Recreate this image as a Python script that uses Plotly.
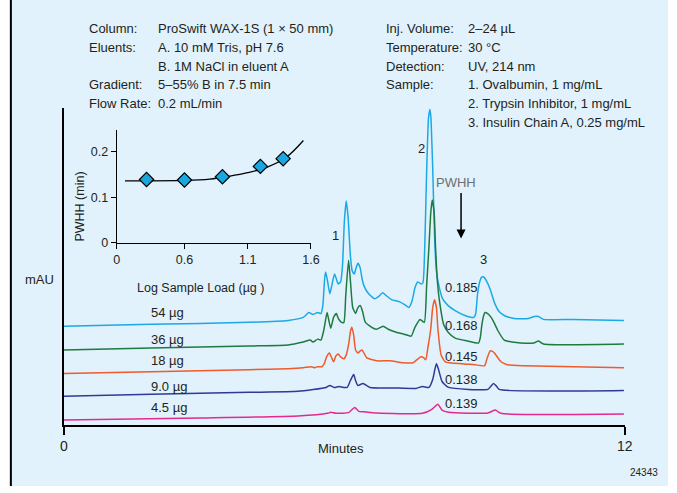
import plotly.graph_objects as go

W, H = 677, 493
FONT = "Liberation Sans, Arial, Helvetica, sans-serif"
TXT = "#231F20"
FS = 13

# ---------------- chromatogram data (time in min, absorbance in mAU) ----------------
t54 = [0.00, 1.87, 3.97, 4.80, 5.12, 5.24, 5.33, 5.43, 5.50, 5.54, 5.58, 5.60, 5.64, 5.69, 5.73, 5.79, 5.83, 5.87,
       5.92, 5.96, 6.00, 6.04, 6.08, 6.13, 6.17, 6.21, 6.25, 6.29, 6.34, 6.38, 6.42, 6.52, 6.65, 6.73, 6.82, 6.90,
       7.01, 7.17, 7.32, 7.38, 7.45, 7.51, 7.57, 7.64, 7.68, 7.72, 7.76, 7.80, 7.83, 7.85, 7.89, 7.93, 7.97, 8.01,
       8.10, 8.22, 8.37, 8.58, 8.77, 8.81, 8.85, 8.90, 8.94, 8.98, 9.04, 9.13, 9.21, 9.31, 9.42, 9.63, 9.94, 10.07,
       10.15, 10.26, 10.89, 11.98]
a54 = [10.0, 10.2, 10.4, 10.6, 10.9, 11.4, 11.2, 11.4, 11.3, 12.1, 14.9, 15.5, 14.6, 13.3, 14.1, 15.3, 14.8, 14.3,
       14.5, 16.1, 20.6, 22.7, 21.1, 17.1, 15.6, 15.3, 15.9, 16.4, 15.9, 14.8, 14.1, 13.3, 12.8, 13.0, 13.4, 13.1,
       12.7, 12.5, 12.1, 11.9, 12.6, 13.9, 14.5, 14.3, 14.4, 18.1, 25.6, 31.1, 32.0, 31.3, 26.1, 19.1, 15.6, 14.4,
       12.8, 12.1, 11.6, 11.1, 10.9, 11.3, 13.3, 14.6, 15.0, 15.0, 14.6, 13.6, 12.4, 11.5, 11.1, 10.8, 10.8, 11.0,
       11.0, 10.7, 10.7, 10.6]

t36 = [0.00, 1.87, 3.97, 4.80, 5.12, 5.27, 5.33, 5.43, 5.50, 5.56, 5.63, 5.66, 5.71, 5.77, 5.83, 5.87, 5.94, 5.99,
       6.03, 6.09, 6.13, 6.18, 6.24, 6.29, 6.34, 6.39, 6.45, 6.62, 6.69, 6.83, 6.94, 7.11, 7.28, 7.43, 7.51, 7.62,
       7.71, 7.76, 7.81, 7.85, 7.88, 7.92, 7.95, 7.99, 8.04, 8.13, 8.22, 8.37, 8.64, 8.87, 8.91, 8.94, 8.98, 9.01,
       9.06, 9.14, 9.21, 9.28, 9.42, 9.59, 9.77, 10.05, 10.15, 10.26, 11.98]
a36 = [7.6, 7.8, 8.0, 8.1, 8.4, 8.6, 8.4, 8.7, 8.6, 9.6, 11.4, 10.8, 9.8, 10.9, 11.3, 10.8, 10.4, 10.4,
       13.1, 16.7, 14.6, 11.9, 11.3, 11.9, 12.1, 11.5, 10.4, 9.8, 9.7, 10.0, 9.7, 9.4, 9.2, 9.0, 9.9, 10.7,
       10.4, 14.1, 18.1, 21.6, 22.8, 21.6, 18.1, 14.6, 12.4, 10.1, 9.4, 8.8, 8.5, 8.3, 8.9, 10.1, 11.1, 11.4,
       11.3, 10.9, 10.3, 9.6, 8.6, 8.4, 8.3, 8.3, 8.5, 8.2, 8.2]

t18 = [0.00, 1.87, 3.97, 4.80, 5.12, 5.29, 5.37, 5.43, 5.52, 5.57, 5.62, 5.68, 5.73, 5.77, 5.82, 5.87, 5.92, 5.99,
       6.04, 6.10, 6.13, 6.16, 6.20, 6.24, 6.29, 6.34, 6.38, 6.43, 6.48, 6.69, 6.97, 7.25, 7.47, 7.55, 7.64, 7.70,
       7.74, 7.79, 7.85, 7.89, 7.93, 7.97, 8.00, 8.07, 8.16, 8.51, 8.79, 9.00, 9.05, 9.12, 9.17, 9.21, 9.35, 9.49,
       9.84, 11.98]
a18 = [5.2, 5.4, 5.6, 5.7, 5.8, 5.9, 5.8, 5.9, 5.9, 6.2, 6.9, 7.3, 6.8, 6.4, 7.0, 7.2, 6.9, 6.7,
       7.1, 8.4, 9.5, 9.9, 9.1, 7.6, 7.3, 7.5, 7.6, 7.2, 6.8, 6.5, 6.5, 6.3, 6.3, 6.6, 6.9, 6.8,
       6.6, 7.9, 9.8, 11.9, 12.7, 11.9, 9.8, 7.1, 6.4, 6.2, 6.1, 6.0, 6.7, 7.5, 7.45, 7.3, 6.4, 6.1,
       6.0, 5.8]

t9 = [0.00, 1.87, 3.97, 5.01, 5.61, 5.69, 5.78, 5.89, 5.98, 6.06, 6.13, 6.20, 6.24, 6.29, 6.40, 6.55, 7.04, 7.53,
      7.67, 7.81, 7.89, 7.94, 7.97, 8.01, 8.09, 8.23, 9.07, 9.13, 9.19, 9.25, 9.31, 11.98]
a9 = [2.9, 3.1, 3.3, 3.4, 3.8, 4.0, 3.8, 3.9, 3.8, 3.8, 4.5, 5.1, 4.5, 4.0, 4.2, 3.8, 3.75, 3.7,
      3.9, 3.8, 4.6, 5.7, 6.2, 5.7, 4.4, 3.8, 3.6, 3.9, 4.2, 3.95, 3.6, 3.5]

t4 = [0.00, 2.92, 5.01, 5.64, 5.71, 5.82, 6.10, 6.22, 6.31, 6.41, 6.69, 7.67, 7.88, 8.00, 8.09, 8.23, 9.07, 9.23,
      9.35, 11.98]
a4 = [0.5, 0.7, 0.9, 1.17, 1.27, 1.17, 1.27, 1.77, 1.37, 1.33, 1.2, 1.17, 1.6, 2.1, 1.5, 1.27, 1.2, 1.5,
      1.17, 1.1]

loads = ["54 µg", "36 µg", "18 µg", "9.0 µg", "4.5 µg"]
pwhh_labels = ["0.185", "0.168", "0.145", "0.138", "0.139"]
colors = ["#1AA9E6", "#1F7A3F", "#F05A2C", "#2E3A96", "#E6288C"]
series_t = [t54, t36, t18, t9, t4]
series_a = [a54, a36, a18, a9, a4]
label_y = [11.4, 8.7, 6.5, 3.9, 1.8]      # mAU position of load labels
pwhh_y = [13.9, 10.1, 6.9, 4.6, 2.2]      # mAU position of PWHH values
peak_names = ["1", "2", "3"]
peak_t = [5.81, 7.64, 8.98]
peak_a = [19.2, 28.0, 16.8]

# ---------------- inset data ----------------
log_load = [0.30, 0.60, 0.90, 1.20, 1.38]
pwhh = [0.139, 0.138, 0.145, 0.168, 0.185]
fit_x = [0.13, 0.30, 0.60, 0.80, 0.95, 1.10, 1.25, 1.40, 1.54]
fit_y = [0.136, 0.136, 0.137, 0.140, 0.146, 0.154, 0.166, 0.187, 0.225]


def px(x):
    return x / W


def py(y):
    return 1 - y / H


fig = go.Figure()
for t, a, c in zip(series_t, series_a, colors):
    fig.add_trace(go.Scatter(x=t, y=a, mode="lines", line=dict(color=c, width=1.5, shape="spline", smoothing=0.5),
                             xaxis="x", yaxis="y", showlegend=False, hoverinfo="skip"))

fig.add_trace(go.Scatter(x=fit_x, y=fit_y, mode="lines", line=dict(color="black", width=1.3, shape="spline"),
                         xaxis="x2", yaxis="y2", showlegend=False))
fig.add_trace(go.Scatter(x=log_load, y=pwhh, mode="markers",
                         marker=dict(symbol="diamond", size=11, color="#1AA7E0", line=dict(color="black", width=1.2)),
                         xaxis="x2", yaxis="y2", showlegend=False))

ann = []
# header text
left_lab = ["Column:", "Eluents:", "", "Gradient:", "Flow Rate:"]
left_val = ["ProSwift WAX-1S (1 × 50 mm)", "A. 10 mM Tris, pH 7.6", "B. 1M NaCl in eluent A",
            "5–55% B in 7.5 min", "0.2 mL/min"]
right_lab = ["Inj. Volume:", "Temperature:", "Detection:", "Sample:", "", ""]
right_val = ["2–24 µL", "30 °C", "UV, 214 nm", "1. Ovalbumin, 1 mg/mL", "2. Trypsin Inhibitor, 1 mg/mL",
             "3. Insulin Chain A, 0.25 mg/mL"]
for i, (l, v) in enumerate(zip(left_lab, left_val)):
    yy = 29 + 19 * i
    if l:
        ann.append(dict(x=px(85), y=py(yy), text=l, xanchor="left"))
    ann.append(dict(x=px(155), y=py(yy), text=v, xanchor="left"))
for i, (l, v) in enumerate(zip(right_lab, right_val)):
    yy = 29 + 19 * i
    if l:
        ann.append(dict(x=px(387), y=py(yy), text=l, xanchor="left"))
    ann.append(dict(x=px(471), y=py(yy), text=v, xanchor="left"))

for a in ann:
    a.update(xref="paper", yref="paper", yanchor="middle", showarrow=False, font=dict(size=FS, color=TXT, family=FONT))

# trace labels
for lab, yv in zip(loads, label_y):
    ann.append(dict(x=1.82, y=yv, xref="x", yref="y", text=lab, xanchor="left", yanchor="middle", showarrow=False,
                    font=dict(size=FS, color=TXT, family=FONT)))
for lab, yv in zip(pwhh_labels, pwhh_y):
    ann.append(dict(x=8.12, y=yv, xref="x", yref="y", text=lab, xanchor="left", yanchor="middle", showarrow=False,
                    font=dict(size=FS, color=TXT, family=FONT)))
for lab, xv, yv in zip(peak_names, peak_t, peak_a):
    ann.append(dict(x=xv, y=yv, xref="x", yref="y", text=lab, xanchor="center", yanchor="middle", showarrow=False,
                    font=dict(size=FS, color=TXT, family=FONT)))

# PWHH arrow
ann.append(dict(x=px(461), y=py(185), xref="paper", yref="paper", text="PWHH", showarrow=False,
                font=dict(size=FS, color="#6D6E71", family=FONT), xanchor="center", yanchor="middle"))
ann.append(dict(x=px(466), y=py(242), xref="paper", yref="paper", text="", showarrow=True, ax=0, ay=-47,
                arrowhead=2, arrowsize=1.2, arrowwidth=1.5, arrowcolor="black"))

# axis titles and footnote
extra = [
    dict(x=px(36), y=py(284), text="mAU", size=FS, angle=0),
    dict(x=px(344), y=py(455), text="Minutes", size=FS, angle=0),
    dict(x=px(77), y=py(210), text="PWHH (min)", size=12.5, angle=-90),
    dict(x=px(200), y=py(292), text="Log Sample Load (µg )", size=12.5, angle=0),
    dict(x=px(653), y=py(479), text="24343", size=10, angle=0),
]
for e in extra:
    ann.append(dict(x=e["x"], y=e["y"], xref="paper", yref="paper", text=e["text"], showarrow=False,
                    xanchor="center", yanchor="middle", textangle=e["angle"],
                    font=dict(size=e["size"], color=TXT, family=FONT)))

shapes = [
    dict(type="rect", xref="paper", yref="paper", x0=px(7), x1=1, y0=0, y1=1, fillcolor="#E1F2FC",
         line=dict(width=0), layer="below"),
    dict(type="line", xref="paper", yref="paper", x0=px(7), x1=px(7), y0=0, y1=1, line=dict(color="black", width=2),
         layer="below"),
]

fig.update_layout(
    width=W, height=H, autosize=False, margin=dict(l=0, r=0, t=0, b=0, pad=0),
    paper_bgcolor="white", plot_bgcolor="rgba(0,0,0,0)",
    font=dict(family=FONT, color=TXT, size=FS),
    annotations=ann, shapes=shapes, showlegend=False,
    xaxis=dict(domain=[px(61), px(633)], range=[0, 12], tickvals=[0, 12], ticks="outside", ticklen=8, tickwidth=1.5,
               tickcolor="black", showline=True, linecolor="black", linewidth=1.5, showgrid=False, zeroline=False,
               anchor="y", tickfont=dict(size=14, color=TXT)),
    yaxis=dict(domain=[py(431), py(110)], range=[0, 32.1], showticklabels=False, ticks="", showline=True,
               linecolor="black", linewidth=1.5, showgrid=False, zeroline=False, anchor="x"),
    xaxis2=dict(domain=[px(115), px(313)], range=[0.065, 1.6], tickvals=[0.065, 0.6, 1.1, 1.6],
                ticktext=["0", "0.6", "1.1", "1.6"], ticks="outside", ticklen=5, tickcolor="black", showline=True,
                linecolor="black", linewidth=1.3, showgrid=False, zeroline=False, anchor="y2",
                tickfont=dict(size=12.5, color=TXT)),
    yaxis2=dict(domain=[py(246), py(132)], range=[0, 0.248], tickvals=[0, 0.1, 0.2], ticktext=["0", "0.1", "0.2"],
                ticks="outside", ticklen=5, tickcolor="black", showline=True, linecolor="black", linewidth=1.3,
                showgrid=False, zeroline=False, anchor="x2", tickfont=dict(size=12.5, color=TXT)),
)

fig.write_html("out.html", config={"responsive": False})
